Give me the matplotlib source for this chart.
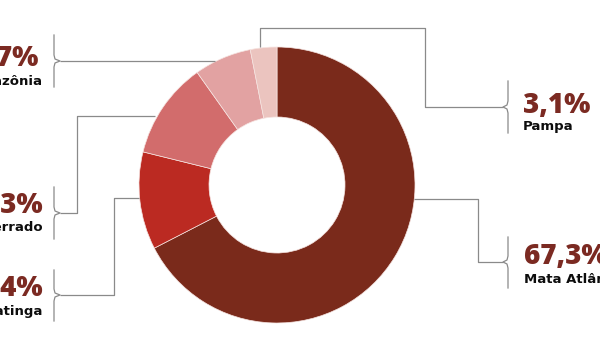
import matplotlib
matplotlib.use("Agg")
import matplotlib.pyplot as plt

# Share of each biome, in the order drawn (clockwise from 12 o'clock)
biomes = ["Mata Atlântica", "Caatinga", "Cerrado", "Amazônia", "Pampa"]
shares = [67.3, 11.4, 11.3, 6.7, 3.1]
share_labels = ["67,3%", "11,4%", "11,3%", "6,7%", "3,1%"]
colors = ["#7a2a1b", "#bb2a22", "#d26c6c", "#e2a2a2", "#ebc4bf"]

PCT_COLOR = "#7b2a22"
LINE_COLOR = "#8a8a8a"
PCT_FONT = ["Open Sans", "DejaVu Sans"]
NAME_FONT = ["DejaVu Sans"]

# layout, in pixels (y grows downward)
CENTER, RADIUS, RING = (277, 185), 138, 70
# leader path from the ring to the brace tip, for each biome
leaders = {
    "Mata Atlântica": [(414, 199), (478, 199), (478, 262), (503, 262)],
    "Caatinga": [(139, 198), (114, 198), (114, 295), (60, 295)],
    "Cerrado": [(155, 116), (77, 116), (77, 213), (60, 213)],
    "Amazônia": [(215, 61), (60, 61)],
    "Pampa": [(260, 47), (260, 28), (425, 28), (425, 107), (503, 107)],
}
# brace: x of the vertical stroke, top, bottom, side of the text
braces = {
    "Mata Atlântica": (508, 237, 288, "right"),
    "Caatinga": (54, 270, 321, "left"),
    "Cerrado": (54, 187, 239, "left"),
    "Amazônia": (54, 35, 87, "left"),
    "Pampa": (508, 81, 133, "right"),
}
# text anchors: x and baseline of the percentage, x and baseline of the name
text_pos = {
    "Mata Atlântica": (524, 264, 524, 283),
    "Caatinga": (43, 296, 43, 315),
    "Cerrado": (43, 213, 43, 231),
    "Amazônia": (38, 66, 43, 85),
    "Pampa": (523, 113, 523, 130),
}

fig = plt.figure(figsize=(6, 3.5), dpi=100)
ax = fig.add_axes([0, 0, 1, 1])

# y axis is inverted, so startangle=-90 + counterclock gives clockwise from top
ax.pie(shares, colors=colors, center=CENTER, radius=RADIUS, startangle=-90,
       counterclock=True,
       wedgeprops=dict(width=RING, edgecolor="#f6e4e1", linewidth=0.5))

ax.set_aspect("auto")
ax.set_xlim(0, 600)
ax.set_ylim(350, 0)
ax.axis("off")

for name, pct in zip(biomes, share_labels):
    xs, ys = zip(*leaders[name])
    ax.plot(xs, ys, color=LINE_COLOR, lw=0.9, solid_capstyle="butt")

    bx, top, bottom, side = braces[name]
    tip, notch = leaders[name][-1]
    step = 1 if tip > bx else -1
    ax.plot([bx, bx, bx + step, tip, bx + step, bx, bx],
            [top, notch - 6, notch - 2, notch, notch + 2, notch + 6, bottom],
            color=LINE_COLOR, lw=0.9)

    px, pct_y, nx, name_y = text_pos[name]
    ha = "left" if side == "right" else "right"
    ax.text(px, pct_y, pct, ha=ha, va="baseline", fontsize=20,
            fontweight="heavy", color=PCT_COLOR, family=PCT_FONT)
    ax.text(nx, name_y, name, ha=ha, va="baseline", fontsize=9.5,
            fontweight="bold", color="#0d0d0d", family=NAME_FONT)

fig.savefig("out.png", dpi=100)
